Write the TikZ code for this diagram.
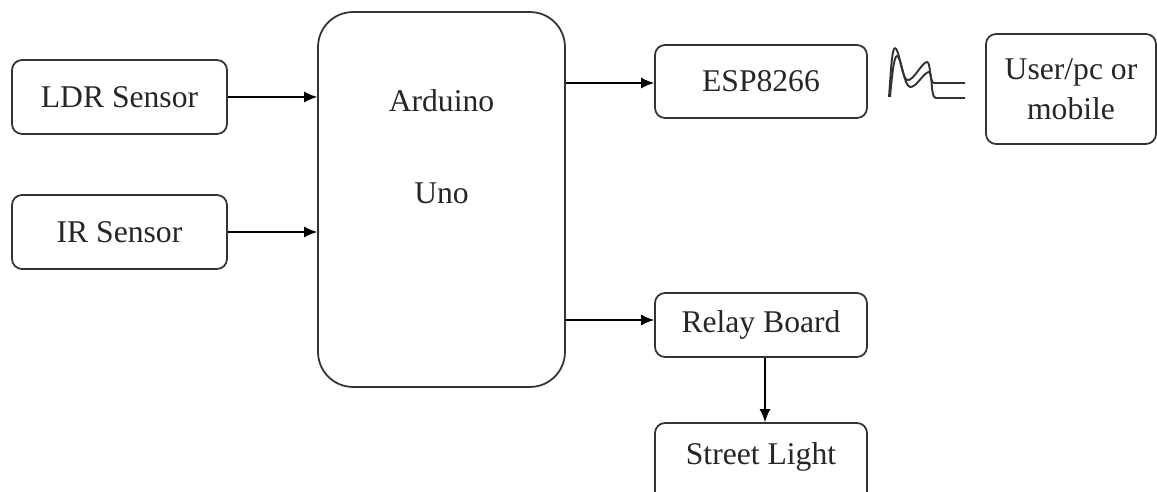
\documentclass[tikz,border=0pt]{standalone}
\usepackage{fontspec}
\setmainfont{LiberationSerif}[Extension=.ttf, UprightFont=*-Regular, BoldFont=*-Bold]
\usetikzlibrary{arrows.meta}

\definecolor{linegray}{HTML}{333333}

\tikzset{
  block/.style={draw=linegray, line width=1pt, rounded corners=0.2cm, fill=white,
    minimum width=4.3cm, minimum height=1.48cm, inner sep=0pt,
    font=\fontsize{18}{22}\selectfont, text=black!85},
  lbl/.style={font=\fontsize{18}{22}\selectfont, text=black!85, inner sep=0pt},
  link/.style={draw=black, line width=0.8pt, -{Latex[length=2.6mm,width=2.2mm]}}
}

\begin{document}
\begin{tikzpicture}[x=0.02cm, y=-0.02cm]
        \useasboundingbox (0,0) rectangle (1157,492);
        \begin{scope}
        \clip (0,0) rectangle (1157,492);

        \node[block] (ldr) at (119.5,97) {LDR Sensor};
        \node[block] (ir) at (119.5,232) {IR Sensor};
        \node[block, minimum width=4.94cm, minimum height=7.5cm, rounded corners=0.7cm] (uno) at (441.5,199.5) {};
        \node[lbl] (unoA) at (441.5,101) {Arduino};
        \node[lbl] (unoB) at (441.5,193) {Uno};
        \node[block, minimum width=4.24cm, minimum height=1.46cm] (esp) at (761,81.5) {ESP8266};
        \node[block, minimum width=3.4cm, minimum height=2.2cm, align=center,
          font=\fontsize{18}{23}\selectfont] (user) at (1071,89) {User/pc or\\mobile};
        \node[block, minimum width=4.24cm, minimum height=1.28cm] (relay) at (761,325) {Relay Board};
        \node[block, minimum width=4.24cm, minimum height=1.6cm] (street) at (761,463) {};
        \node[lbl] (streetT) at (761,457) {Street Light};

        \path[link] (ldr.east) -- (ldr.east -| uno.west);
        \path[link] (ir.east) -- (ir.east -| uno.west);
        \path[link] (uno.east |- 0,83) -- (esp.west |- 0,83);
        \path[link] (uno.east |- 0,320) -- (relay.west |- 0,320);
        \path[link] (relay.south -| 765,0) -- (street.north -| 765,0);

        % wireless link
        \draw[linegray, line width=1.1pt, line join=round]
          (889,97) .. controls (891,70) and (892,48) .. (895,48)
          .. controls (899,48) and (902,78) .. (907,80)
          .. controls (913,82) and (922,62) .. (927,62)
          .. controls (931,62) and (929,83) .. (934,83) -- (965,83);
        \draw[linegray, line width=1.1pt, line join=round]
          (890,97) .. controls (892,75) and (894,56) .. (897,56)
          .. controls (901,56) and (904,86) .. (910,87)
          .. controls (916,88) and (924,72) .. (929,72)
          .. controls (933,72) and (930,98) .. (936,98) -- (965,98);
        \end{scope}
      \end{tikzpicture}
\end{document}
